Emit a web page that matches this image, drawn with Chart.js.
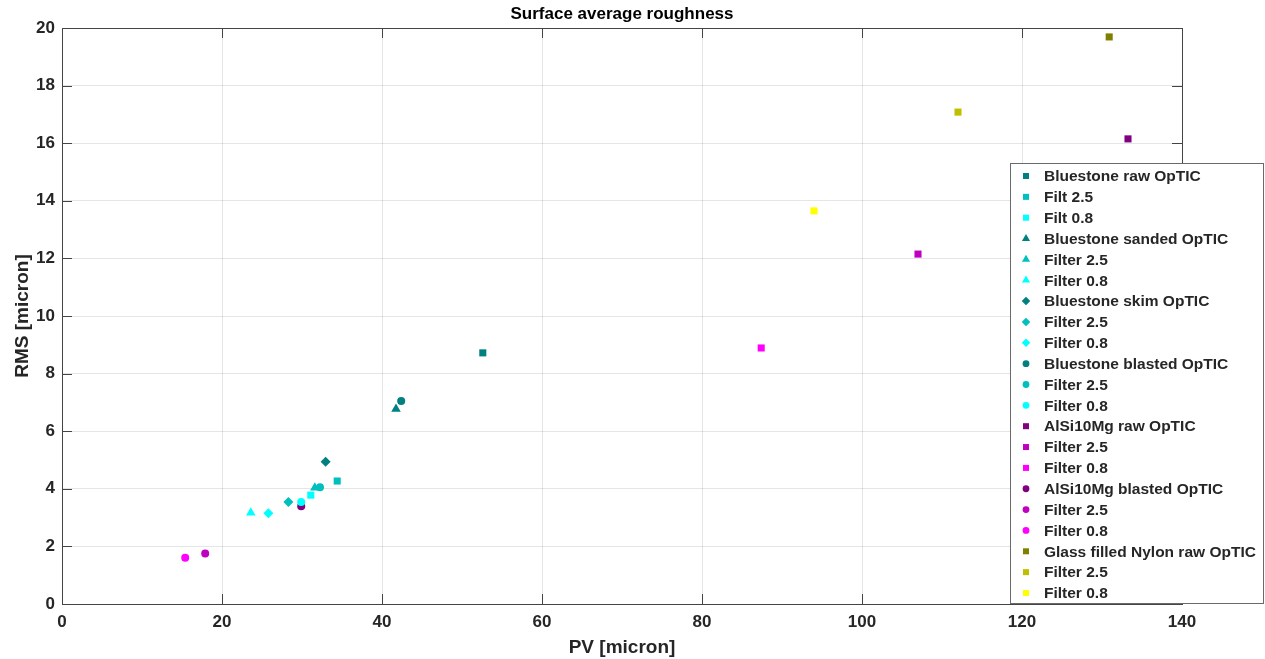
<!DOCTYPE html>
<html>
<head>
<meta charset="utf-8">
<title>Surface average roughness</title>
<script src="https://cdn.jsdelivr.net/npm/chart.js@4.4.1/dist/chart.umd.min.js"></script>
<style>
    html, body { margin: 0; padding: 0; background: #fff; }
    #wrap { width: 1265px; height: 659px; }
</style>
</head>
<body>
<div id="wrap"><canvas id="roughnessChart" width="1265" height="659"></canvas></div>
<script>
// Series names (one point each)
const seriesLabels = [
    'Bluestone raw OpTIC', 'Filt 2.5', 'Filt 0.8',
    'Bluestone sanded OpTIC', 'Filter 2.5', 'Filter 0.8',
    'Bluestone skim OpTIC', 'Filter 2.5', 'Filter 0.8',
    'Bluestone blasted OpTIC', 'Filter 2.5', 'Filter 0.8',
    'AlSi10Mg raw OpTIC', 'Filter 2.5', 'Filter 0.8',
    'AlSi10Mg blasted OpTIC', 'Filter 2.5', 'Filter 0.8',
    'Glass filled Nylon raw OpTIC', 'Filter 2.5', 'Filter 0.8'
];

// PV [micron] and RMS [micron]
const pvMicron = [
    52.6, 34.4, 31.1,
    41.75, 31.6, 23.6,
    32.95, 28.3, 25.8,
    42.4, 32.25, 29.9,
    133.25, 107.0, 87.4,
    29.9, 17.9, 15.4,
    130.9, 112.0, 94.0
];
const rmsMicron = [
    8.72, 4.27, 3.78,
    6.77, 4.04, 3.17,
    4.94, 3.54, 3.15,
    7.05, 4.05, 3.54,
    16.15, 12.15, 8.89,
    3.39, 1.75, 1.61,
    19.69, 17.08, 13.65
];

const xTickValues = [0, 20, 40, 60, 80, 100, 120, 140];
const yTickValues = [0, 2, 4, 6, 8, 10, 12, 14, 16, 18, 20];

// Marker look per series
const markerShapes = [
    'rect', 'rect', 'rect',
    'triangle', 'triangle', 'triangle',
    'rectRot', 'rectRot', 'rectRot',
    'circle', 'circle', 'circle',
    'rect', 'rect', 'rect',
    'circle', 'circle', 'circle',
    'rect', 'rect', 'rect'
];
const markerColors = [
    '#008080', '#00bfbf', '#00ffff',
    '#008080', '#00bfbf', '#00ffff',
    '#008080', '#00bfbf', '#00ffff',
    '#008080', '#00bfbf', '#00ffff',
    '#800080', '#bf00bf', '#ff00ff',
    '#800080', '#bf00bf', '#ff00ff',
    '#808000', '#bfbf00', '#ffff00'
];
const shapeRadius = { rect: 5, triangle: 5.5, rectRot: 5, circle: 4 };

const FONT = '"Liberation Sans", Arial, Helvetica, sans-serif';
const AXIS_COLOR = '#444444';
const TEXT_COLOR = '#262626';

const datasets = seriesLabels.map((label, i) => ({
    label: label,
    data: [{ x: pvMicron[i], y: rmsMicron[i] }],
    pointStyle: markerShapes[i],
    pointRadius: shapeRadius[markerShapes[i]],
    pointBackgroundColor: markerColors[i],
    pointBorderColor: markerColors[i],
    pointBorderWidth: 0,
    showLine: false
}));

// Title, box and inward MATLAB-like ticks
const axesBoxPlugin = {
    id: 'axesBox',
    beforeDatasetsDraw(chart) {
        const { ctx, chartArea: a, scales } = chart;
        ctx.save();
        ctx.strokeStyle = AXIS_COLOR;
        ctx.lineWidth = 1;
        ctx.beginPath();
        scales.x.ticks.forEach(t => {
            const px = Math.round(scales.x.getPixelForValue(t.value)) + 0.5;
            ctx.moveTo(px, a.bottom); ctx.lineTo(px, a.bottom - 10);
            ctx.moveTo(px, a.top); ctx.lineTo(px, a.top + 10);
        });
        scales.y.ticks.forEach(t => {
            const py = Math.round(scales.y.getPixelForValue(t.value)) + 0.5;
            ctx.moveTo(a.left, py); ctx.lineTo(a.left + 10, py);
            ctx.moveTo(a.right, py); ctx.lineTo(a.right - 10, py);
        });
        ctx.stroke();
        ctx.strokeRect(Math.round(a.left) + 0.5, Math.round(a.top) + 0.5,
            Math.round(a.right - a.left), Math.round(a.bottom - a.top));
        ctx.restore();
    },
    afterDraw(chart) {
        const { ctx, chartArea: a } = chart;
        ctx.save();
        ctx.fillStyle = '#000';
        ctx.font = 'bold 17px ' + FONT;
        ctx.textAlign = 'center';
        ctx.textBaseline = 'middle';
        ctx.fillText('Surface average roughness', (a.left + a.right) / 2, 14);
        ctx.restore();
    }
};

// Legend box drawn over the right part of the axes
const boxLegendPlugin = {
    id: 'boxLegend',
    afterDraw(chart, args, opts) {
        const { ctx } = chart;
        const b = opts.box;
        ctx.save();
        ctx.fillStyle = '#fff';
        ctx.fillRect(b.left, b.top, b.right - b.left, b.bottom - b.top);
        ctx.strokeStyle = '#6a6a6a';
        ctx.lineWidth = 1;
        ctx.strokeRect(b.left + 0.5, b.top + 0.5, b.right - b.left, b.bottom - b.top);
        ctx.font = 'bold 15.5px ' + FONT;
        ctx.textBaseline = 'middle';
        ctx.textAlign = 'left';
        chart.data.datasets.forEach((ds, i) => {
            const y = opts.firstRow + i * opts.rowGap;
            ctx.fillStyle = ds.pointBackgroundColor;
            ctx.strokeStyle = ds.pointBackgroundColor;
            Chart.helpers.drawPoint(ctx, {
                pointStyle: ds.pointStyle,
                rotation: 0,
                radius: ds.pointRadius * 0.85,
                borderWidth: 0
            }, opts.markerX, y);
            ctx.fillStyle = TEXT_COLOR;
            ctx.fillText(ds.label, opts.textX, y + 1);
        });
        ctx.restore();
    }
};

const tickFont = { family: FONT, size: 17, weight: 'bold' };
const titleFont = { family: FONT, size: 19, weight: 'bold' };
const gridColor = 'rgba(38, 38, 38, 0.12)';

new Chart(document.getElementById('roughnessChart'), {
    type: 'scatter',
    data: { datasets: datasets },
    options: {
        responsive: false,
        animation: false,
        layout: { padding: { top: 28, right: 83, left: 0, bottom: 0 } },
        plugins: {
            legend: { display: false },
            tooltip: { enabled: false },
            boxLegend: {
                box: { left: 1010, top: 163, right: 1263, bottom: 603 },
                firstRow: 176,
                rowGap: 20.85,
                markerX: 1026,
                textX: 1044
            }
        },
        scales: {
            x: {
                type: 'linear',
                min: 0,
                max: 140,
                afterBuildTicks: s => { s.ticks = xTickValues.map(v => ({ value: v })); },
                afterFit: s => { s.height = 55; },
                grid: { color: gridColor, drawTicks: false },
                border: { display: true, color: AXIS_COLOR },
                ticks: { padding: 8, color: TEXT_COLOR, font: tickFont },
                title: {
                    display: true, text: 'PV [micron]', color: TEXT_COLOR,
                    font: titleFont, padding: { top: 0, bottom: 0 }
                }
            },
            y: {
                type: 'linear',
                min: 0,
                max: 20,
                afterBuildTicks: s => { s.ticks = yTickValues.map(v => ({ value: v })); },
                afterFit: s => { s.width = 62; },
                grid: { color: gridColor, drawTicks: false },
                border: { display: true, color: AXIS_COLOR },
                ticks: { padding: 7, color: TEXT_COLOR, font: tickFont },
                title: {
                    display: true, text: 'RMS [micron]', color: TEXT_COLOR,
                    font: titleFont, padding: { top: 11, bottom: 0 }
                }
            }
        }
    },
    plugins: [axesBoxPlugin, boxLegendPlugin]
});
</script>
</body>
</html>
